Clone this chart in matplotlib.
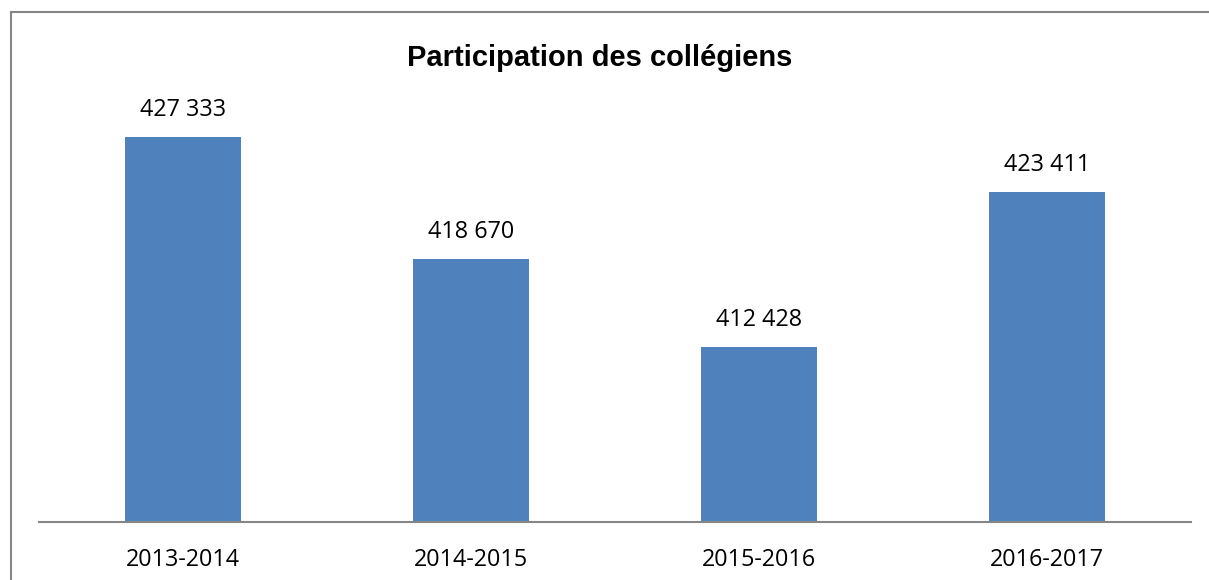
import matplotlib
matplotlib.use("Agg")
import matplotlib.pyplot as plt
from matplotlib.lines import Line2D

categories = ["2013-2014", "2014-2015", "2015-2016", "2016-2017"]
values = [427333, 418670, 412428, 423411]
value_labels = ["427 333", "418 670", "412 428", "423 411"]
title = "Participation des collégiens"

W, H = 1209, 580
fig = plt.figure(figsize=(W / 100, H / 100), dpi=100)
ax = fig.add_axes([39 / W, 1 - 522 / H, (1191 - 39) / W, (522 - 99) / H])

bar_color = "#4F81BD"
x = list(range(len(categories)))
bars = ax.bar(x, values, width=0.4, color=bar_color, bottom=0)
ax.set_ylim(400000, 430000)
ax.set_xlim(-0.5, len(categories) - 0.5)

for xi, v, lab in zip(x, values, value_labels):
    ax.annotate(lab, (xi, v), xytext=(0, 15), textcoords="offset pixels",
                ha="center", va="bottom", fontsize=16.8, family="Open Sans",
                color="black")

ax.set_xticks(x)
ax.set_xticklabels(categories, fontsize=16.8, family="Open Sans")
ax.tick_params(axis="x", length=0, pad=19)
ax.set_yticks([])
for s in ["top", "left", "right"]:
    ax.spines[s].set_visible(False)
ax.spines["bottom"].set_color("#868686")
ax.spines["bottom"].set_linewidth(1.5)

fig.text(600 / W, 1 - 57.5 / H, title, ha="center", va="center",
         fontsize=21, fontweight="bold", family="Liberation Sans")

# outer chart border (partially visible)
border_color = "#868686"
fig.add_artist(Line2D([10.5 / W, 10.5 / W], [0, 1 - 12 / H], transform=fig.transFigure,
                      color=border_color, lw=1.5))
fig.add_artist(Line2D([10.5 / W, 1208 / W], [1 - 12 / H, 1 - 12 / H], transform=fig.transFigure,
                      color=border_color, lw=1.5))

fig.savefig("out.png", dpi=100)
